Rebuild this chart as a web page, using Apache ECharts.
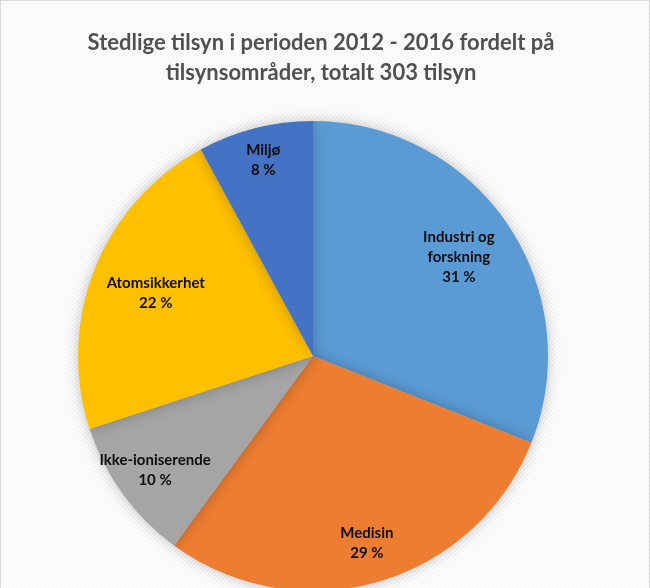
<!DOCTYPE html>
<html><head><meta charset="utf-8">
<script src="https://cdn.jsdelivr.net/npm/echarts@6/dist/echarts.min.js"></script>
<style>html,body{margin:0;padding:0;background:#fff}#c{width:650px;height:588px;box-sizing:border-box;border:1px solid #d9d9d9;border-bottom:none}</style>
</head><body><div id="c"></div>
<script>
const titleText = 'Stedlige tilsyn i perioden 2012 - 2016 fordelt på\ntilsynsområder, totalt 303 tilsyn';
const categories = ['Industri og\nforskning', 'Medisin', 'Ikke-ioniserende', 'Atomsikkerhet', 'Miljø'];
const values = [94, 88, 30, 67, 24];
const percentLabels = ['31 %', '29 %', '10 %', '22 %', '8 %'];
const colors = ['#5B9BD5', '#ED7D31', '#A5A5A5', '#FFC000', '#4472C4'];
const labelRadiusFrac = [0.75, 0.83, 0.83, 0.72, 0.86];

const cv = document.createElement('canvas');
cv.width = 4; cv.height = 4;
const g = cv.getContext('2d');
g.fillStyle = '#ffffff'; g.fillRect(0,0,4,4);
g.fillStyle = '#efefef';
for (let i=0;i<4;i++){ g.fillRect(i,(3-i),1,1); }

const CX = 312, CY = 355, R = 235;
const chart = echarts.init(document.getElementById('c'));
chart.setOption({
  backgroundColor: {image: cv, repeat: 'repeat'},
  title: {
    text: titleText, left: 315, textAlign: 'center', top: 22,
    textStyle: {fontFamily: 'Lato', fontWeight: 'bold', fontSize: 22, color: '#505050', lineHeight: 30}
  },
  series: [{
    type: 'pie',
    center: [CX, CY],
    radius: R,
    startAngle: 90,
    clockwise: true,
    animation: false,
    color: colors,
    itemStyle: {shadowBlur: 14, shadowColor: 'rgba(0,0,0,0.25)', borderWidth: 0},
    label: {
      position: 'inside',
      formatter: p => p.name + '\n' + percentLabels[p.dataIndex],
      fontFamily: 'Lato', fontWeight: 'bold', fontSize: 15, color: '#0d0d0d', lineHeight: 20, align: 'center'
    },
    labelLayout: function (p) {
      const r = p.labelRect;
      const lx = r.x + r.width / 2, ly = r.y + r.height / 2;
      const dxc = lx - CX, dyc = ly - CY;
      const d = Math.sqrt(dxc*dxc + dyc*dyc) || 1;
      const f = labelRadiusFrac[p.dataIndex] * R / d;
      return {dx: dxc * (f - 1), dy: dyc * (f - 1)};
    },
    labelLine: {show: false},
    data: categories.map((c, i) => ({name: c, value: values[i]}))
  }]
});
</script></body></html>
